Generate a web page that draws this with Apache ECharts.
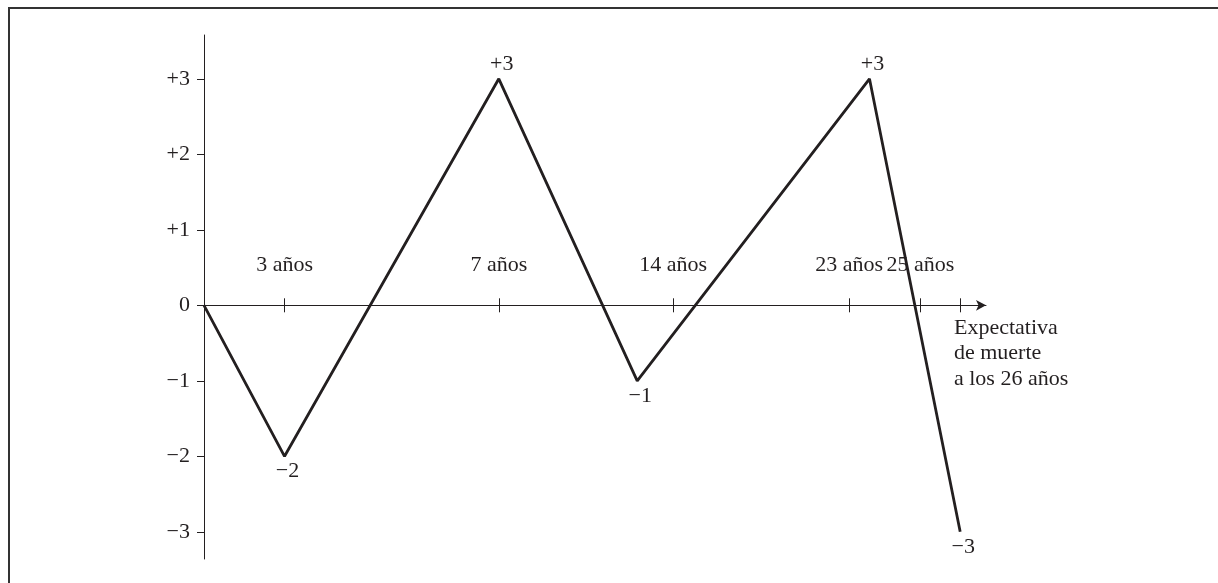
<!DOCTYPE html>
<html><head><meta charset="utf-8">
<script src="https://cdn.jsdelivr.net/npm/echarts@6/dist/echarts.min.js"></script>
<style>html,body{margin:0;padding:0;background:#fff}#c{width:1218px;height:583px}</style>
</head><body><div id="c"></div>
<script>
// Schematic horizontal positions as drawn (axis units 0–100) and the values
const puntosX = [0, 10.3, 37.7, 55.4, 85.1, 96.7];
const puntosY = [0, -2, 3, -1, 3, -3];
const etiquetasPuntos = ['', '−2', '+3', '−1', '+3', '−3'];
const ticksX = [10.3, 37.7, 60.0, 82.5, 91.6, 96.7];
const etiquetasX = ['3 años', '7 años', '14 años', '23 años', '25 años', ''];
const ticksY = [3, 2, 1, 0, -1, -2, -3];
const etiquetasY = ['+3', '+2', '+1', '0', '−1', '−2', '−3'];
const posNota = 95.9;
const notaEje = ['Expectativa', 'de muerte', 'a los 26 años'];

const INK = '#231f20';
const FONT = 'Liberation Serif';
const FS = 22;

function labelFor(list, values) {
  return function (v) {
    for (let i = 0; i < values.length; i++) if (Math.abs(values[i] - v) < 1e-6) return list[i];
    return '';
  };
}

const baseX = {
  type: 'value', min: 0, max: 100,
  axisTick: { show: true, customValues: ticksX, length: 7, lineStyle: { color: INK, width: 1 } },
  axisLabel: { show: false },
  splitLine: { show: false }
};

const chart = echarts.init(document.getElementById('c'), null, { renderer: 'canvas' });
chart.setOption({
  animation: false,
  backgroundColor: '#fff',
  grid: { left: 204, right: 232, top: 35, bottom: 24, containLabel: false, outerBoundsMode: 'none' },
  xAxis: [
    Object.assign({}, baseX, {
      position: 'bottom',
      axisLine: { show: true, onZero: true, onZeroAxisIndex: 0, symbol: ['none', 'arrow'], symbolSize: [8, 10],
        lineStyle: { color: INK, width: 1 } }
    }),
    Object.assign({}, baseX, {
      position: 'top',
      axisLine: { show: true, onZero: true, onZeroAxisIndex: 0, lineStyle: { color: INK, width: 1, opacity: 0 } }
    })
  ],
  yAxis: {
    type: 'value', min: -3.36, max: 3.58,
    axisLine: { show: true, onZero: false, lineStyle: { color: INK, width: 1 } },
    axisTick: { show: true, customValues: ticksY, length: 7, lineStyle: { color: INK, width: 1 } },
    axisLabel: { show: true, customValues: ticksY, formatter: labelFor(etiquetasY, ticksY),
      margin: 14, color: INK, fontFamily: FONT, fontSize: FS },
    splitLine: { show: false }
  },
  graphic: [
    { type: 'polyline', shape: { points: [[9, 583], [9, 8], [1218, 8]] },
      style: { stroke: '#333', lineWidth: 2, fill: null } }
  ],
  series: [
    {
      type: 'line',
      xAxisIndex: 0,
      data: puntosX.map((x, i) => ({
        value: [x, puntosY[i]],
        label: { position: puntosY[i] > 0 ? 'top' : 'bottom' }
      })),
      showSymbol: true, symbol: 'circle', symbolSize: 0,
      itemStyle: { color: INK },
      lineStyle: { color: INK, width: 2.8 },
      label: { show: true, distance: 4, offset: [3, 0], color: INK, fontFamily: FONT, fontSize: FS,
        formatter: p => etiquetasPuntos[p.dataIndex] },
      z: 5
    },
    {
      // year tick labels, placed above the horizontal axis
      type: 'scatter',
      xAxisIndex: 0,
      data: ticksX.map(x => [x, 0]),
      symbolSize: 0,
      silent: true,
      itemStyle: { color: INK, opacity: 1 },
      label: { show: true, position: 'top', distance: 29, color: INK, fontFamily: FONT, fontSize: FS,
        formatter: p => etiquetasX[p.dataIndex] },
      z: 3
    },
    {
      // note under the axis end
      type: 'scatter',
      xAxisIndex: 0,
      data: [[posNota, 0]],
      symbolSize: 0,
      silent: true,
      itemStyle: { color: INK, opacity: 1 },
      label: { show: true, position: 'bottom', distance: 10, align: 'left', lineHeight: 25.5,
        color: INK, fontFamily: FONT, fontSize: FS, formatter: () => notaEje.join('\n') },
      z: 3
    }
  ]
});
</script></body></html>
